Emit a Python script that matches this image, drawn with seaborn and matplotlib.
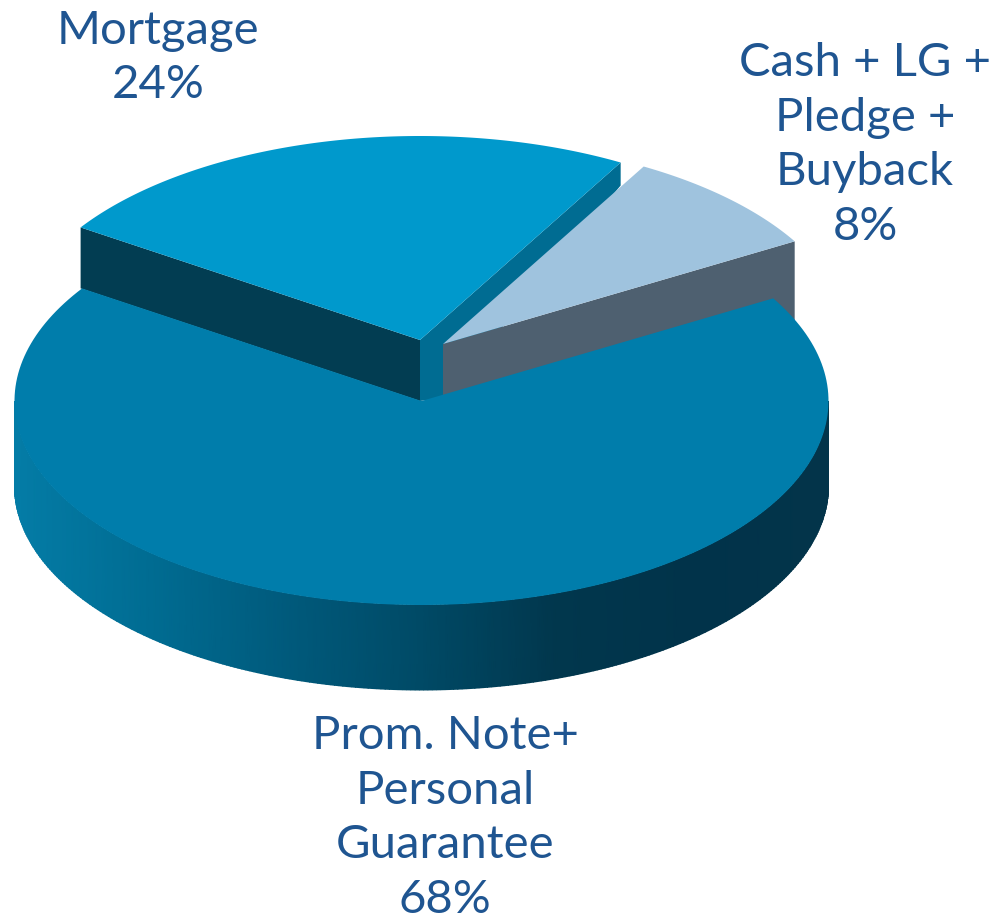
import numpy as np
import matplotlib
matplotlib.use("Agg")
import matplotlib.pyplot as plt
import seaborn as sns

# shares, clockwise from the left edge of Mortgage
categories = ["Mortgage", "Cash + LG +\nPledge +\nBuyback", "Prom. Note+\nPersonal\nGuarantee"]
shares = [23.9, 8.4, 67.7]

sns.set_theme(style="white")
plt.rcParams["font.family"] = ["Lato", "DejaVu Sans"]

TEXT = "#1f5591"
TOP = ["#0099cc", "#9fc3de", "#007dab"]
RX, RY = 407, 204
START = 146.5
CENTERS = [(420, 340), (443, 344), (421.5, 401)]
LABEL_POS = [(158, 58), (865, 145), (445, 818)]

wall_cmap = sns.blend_palette(["#047ca6", "#006c92", "#005a7c", "#004a66", "#01374d", "#01334a", "#03344a"], as_cmap=True)


def rim(center, theta):
    t = np.radians(theta)
    return center[0] + RX * np.cos(t), center[1] - RY * np.sin(t)


def wedge(center, t1, t2):
    t = np.linspace(t1, t2, 200)
    x, y = rim(center, t)
    return np.r_[center[0], x], np.r_[center[1], y]


# angles come from the shares, going clockwise
edges = START - np.cumsum([0] + shares) * 3.6
mort_l, mort_r, light_r = edges[0], edges[1], edges[2]
big_end = edges[3]

fig = plt.figure(figsize=(9.93, 9.21), dpi=100)
ax = fig.add_axes([0, 0, 1, 1])
ax.set_xlim(0, 993)
ax.set_ylim(921, 0)
ax.axis("off")

c_m, c_l, c_b = CENTERS

# Mortgage walls, the inner one runs on under the Cash slice
xa, ya = rim(c_m, mort_l)
ax.fill([c_m[0], xa, xa, c_m[0]], [c_m[1], ya, ya + 61, c_m[1] + 61], color="#023d52", lw=0)
xb, yb = rim(c_m, mort_r)
ax.fill([c_m[0], xb, xb, c_l[0], c_m[0]], [c_m[1], yb, yb + 23, c_l[1] + 54, c_m[1] + 61],
        color="#006c92", lw=0)

# Cash wall
xc, yc = rim(c_l, light_r)
ax.fill([c_l[0], xc, xc, c_l[0]], [c_l[1], yc, yc + 85, c_l[1] + 54], color="#4e6070", lw=0)

# tops of the two pulled out slices
x, y = wedge(c_m, mort_l, mort_r)
ax.fill(x, y, color=TOP[0], lw=0)
x, y = wedge(c_l, mort_r, light_r)
ax.fill(x, y, color=TOP[1], lw=0)

# front wall of the big slice, shaded left to right
t = np.linspace(180, 360, 300)
bx, by = rim(c_b, t)
X = np.vstack([bx, bx])
Y = np.vstack([by, by + 85])
ax.pcolormesh(X, Y, X, cmap=wall_cmap, shading="gouraud", vmin=15, vmax=828)

# big slice top
x, y = wedge(c_b, light_r, big_end)
ax.fill(x, y, color=TOP[2], lw=0)

for name, share, pos in zip(categories, shares, LABEL_POS):
    ax.text(pos[0], pos[1], f"{name}\n{share:.0f}%", color=TEXT, fontsize=34,
            ha="center", va="center", linespacing=1.38)

fig.savefig("out.png", dpi=100)
